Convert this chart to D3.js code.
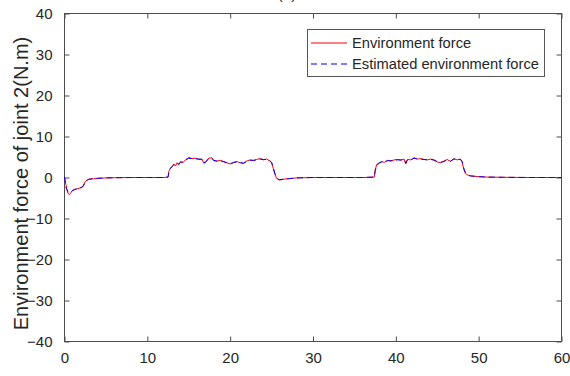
<!DOCTYPE html>
<html>
<head>
<meta charset="utf-8">
<script src="https://cdn.jsdelivr.net/npm/d3@7"></script>
<style>
  html, body { margin: 0; padding: 0; background: #fff; }
  svg { display: block; font-family: "Liberation Sans", Arial, sans-serif; }
</style>
</head>
<body>
<svg id="chart" width="570" height="376"></svg>
<script>
// Time samples (s)
const time = [0, 0.2, 0.4, 0.6, 0.8, 1.0, 1.2, 1.5, 1.8, 2.0, 2.2, 2.5, 2.8, 3.0, 3.5, 4, 5, 6, 8, 10, 12,
  12.5, 12.6, 12.8, 13.0, 13.2, 13.4, 13.6, 13.8, 14.0, 14.3, 14.6, 15.0, 15.4, 15.8, 16.2, 16.6, 16.8, 17.0,
  17.4, 17.8, 18.0, 18.4, 18.8, 19.2, 19.6, 20.0, 20.4, 20.8, 21.2, 21.6, 22.0, 22.4, 22.8, 23.2, 23.6, 24.0,
  24.4, 24.8, 25.0, 25.2, 25.4, 25.6, 25.8, 26.0, 26.5, 27, 28, 30, 33, 36,
  37.4, 37.5, 37.7, 38.0, 38.3, 38.6, 39.0, 39.4, 39.8, 40.2, 40.6, 41.0, 41.2, 41.4, 41.8, 42.2, 42.6, 43.0,
  43.4, 43.8, 44.2, 44.6, 45.0, 45.4, 45.8, 46.2, 46.6, 47.0, 47.4, 47.8, 48.0, 48.2, 48.4, 48.6, 48.8, 49.0,
  49.5, 50, 51, 53, 56, 60];

// Measured environment force (N.m)
const envForce = [0, -2.0, -3.8, -4.2, -3.6, -3.2, -3.0, -2.8, -2.6, -2.5, -2.3, -1.0, -0.5, -0.4, -0.3, -0.2, -0.1, -0.05, 0, 0, 0,
  0.1, 1.5, 2.4, 2.6, 3.3, 2.8, 3.6, 3.1, 3.9, 3.6, 4.3, 4.9, 4.6, 4.7, 4.4, 4.5, 3.5, 3.6,
  4.7, 4.8, 4.1, 4.0, 4.2, 3.8, 3.6, 3.3, 3.7, 3.9, 3.6, 3.4, 4.0, 4.3, 4.1, 4.4, 4.6, 4.3,
  4.5, 4.0, 3.6, 2.2, 0.8, -0.2, -0.5, -0.6, -0.4, -0.3, -0.1, 0, 0, 0,
  0.1, 1.8, 3.2, 3.6, 3.9, 3.7, 4.2, 4.0, 4.3, 4.4, 4.2, 4.5, 3.3, 4.4, 4.3, 4.8, 4.5, 4.6,
  4.4, 4.3, 4.5, 4.2, 3.8, 3.6, 4.0, 4.4, 3.9, 4.6, 4.3, 4.5, 3.8, 2.0, 1.0, 0.7, 0.5, 0.4,
  0.3, 0.2, 0.1, 0.05, 0, 0];

// Estimated environment force (N.m)
const estForce = [0.2, -2.6, -3.4, -3.8, -3.5, -3.1, -2.9, -2.7, -2.6, -2.4, -2.2, -1.2, -0.6, -0.4, -0.3, -0.2, -0.1, -0.05, 0, 0, 0,
  0.1, 1.2, 2.2, 2.7, 3.1, 3.0, 3.4, 3.3, 3.7, 3.8, 4.2, 4.7, 4.6, 4.6, 4.5, 4.4, 3.7, 3.7,
  4.6, 4.7, 4.2, 4.0, 4.1, 3.9, 3.6, 3.4, 3.6, 3.8, 3.7, 3.5, 3.9, 4.2, 4.2, 4.3, 4.5, 4.4,
  4.4, 4.1, 3.7, 2.5, 1.0, 0.0, -0.4, -0.5, -0.4, -0.3, -0.1, 0, 0, 0,
  0.1, 1.5, 3.0, 3.5, 3.8, 3.8, 4.1, 4.1, 4.2, 4.3, 4.3, 4.4, 3.5, 4.3, 4.3, 4.7, 4.5, 4.5,
  4.4, 4.3, 4.4, 4.3, 3.9, 3.7, 3.9, 4.3, 4.0, 4.5, 4.4, 4.4, 3.9, 2.3, 1.2, 0.8, 0.5, 0.4,
  0.3, 0.2, 0.1, 0.05, 0, 0];

const xTicks = [0, 10, 20, 30, 40, 50, 60];
const yTicks = [-40, -30, -20, -10, 0, 10, 20, 30, 40];
const seriesNames = ["Environment force", "Estimated environment force"];

const svg = d3.select("#chart");
const m = { left: 64.5, right: 561.5, top: 13.5, bottom: 341.5 };
const axisColor = "#4d4d4d";
const textColor = "#262626";

const x = d3.scaleLinear().domain([0, 60]).range([m.left, m.right]);
const y = d3.scaleLinear().domain([-40, 40]).range([m.bottom, m.top]);

// Title (sits above the visible area)
svg.append("text").attr("x", 287).attr("y", -1).attr("text-anchor", "middle")
  .attr("font-size", 15).attr("fill", textColor).text("(b)");

// Axes with inward ticks on all four sides
function styleAxis(g) {
  g.select(".domain").remove();
  g.selectAll(".tick line").attr("stroke", axisColor).attr("stroke-width", 1);
  g.selectAll(".tick text").attr("fill", textColor).attr("font-size", 15)
    .attr("font-family", "Liberation Sans, Arial, sans-serif");
}
svg.append("g").attr("transform", `translate(0,${m.bottom})`)
  .call(d3.axisBottom(x).tickValues(xTicks).tickSizeInner(-5).tickSizeOuter(0).tickPadding(11))
  .call(styleAxis)
  .call(g => g.selectAll(".tick text").attr("dy", "0.71em"));
svg.append("g").attr("transform", `translate(0,${m.top})`)
  .call(d3.axisTop(x).tickValues(xTicks).tickSizeInner(-5).tickSizeOuter(0).tickFormat(""))
  .call(styleAxis);
svg.append("g").attr("transform", `translate(${m.left},0)`)
  .call(d3.axisLeft(y).tickValues(yTicks).tickSizeInner(-5).tickSizeOuter(0).tickPadding(12))
  .call(styleAxis);
svg.append("g").attr("transform", `translate(${m.right},0)`)
  .call(d3.axisRight(y).tickValues(yTicks).tickSizeInner(-5).tickSizeOuter(0).tickFormat(""))
  .call(styleAxis);

// Plot box
svg.append("rect").attr("x", m.left).attr("y", m.top)
  .attr("width", m.right - m.left).attr("height", m.bottom - m.top)
  .attr("fill", "none").attr("stroke", axisColor).attr("stroke-width", 1);

// Axis labels
svg.append("text")
  .attr("transform", `translate(28,${(m.top + m.bottom) / 2 + 6}) rotate(-90)`)
  .attr("text-anchor", "middle").attr("font-size", 20).attr("fill", textColor)
  .text("Environment force of joint 2(N.m)");
svg.append("text").attr("x", 312).attr("y", 388).attr("text-anchor", "middle")
  .attr("font-size", 17).attr("fill", textColor).text("Time(s)");

// Series
const line = d3.line().x(d => x(d[0])).y(d => y(d[1]));
svg.append("path").datum(time.map((t, i) => [t, envForce[i]]))
  .attr("d", line).attr("fill", "none").attr("stroke", "#ff0000").attr("stroke-width", 1);
svg.append("path").datum(time.map((t, i) => [t, estForce[i]]))
  .attr("d", line).attr("fill", "none").attr("stroke", "#0000ff").attr("stroke-width", 1)
  .attr("stroke-dasharray", "6,4");

// Legend
const lg = svg.append("g");
lg.append("rect").attr("x", 307.5).attr("y", 29.5).attr("width", 237).attr("height", 47)
  .attr("fill", "#fff").attr("stroke", "#555").attr("stroke-width", 1);
const legendRows = [
  { name: seriesNames[0], color: "#ff0000", dash: null, y: 43 },
  { name: seriesNames[1], color: "#0000ff", dash: "6,4", y: 64 }
];
legendRows.forEach(r => {
  lg.append("line").attr("x1", 311).attr("x2", 347).attr("y1", r.y).attr("y2", r.y)
    .attr("stroke", r.color).attr("stroke-width", 1).attr("stroke-dasharray", r.dash);
  lg.append("text").attr("x", 352).attr("y", r.y + 5).attr("font-size", 14.7)
    .attr("fill", textColor).text(r.name);
});
</script>
</body>
</html>
